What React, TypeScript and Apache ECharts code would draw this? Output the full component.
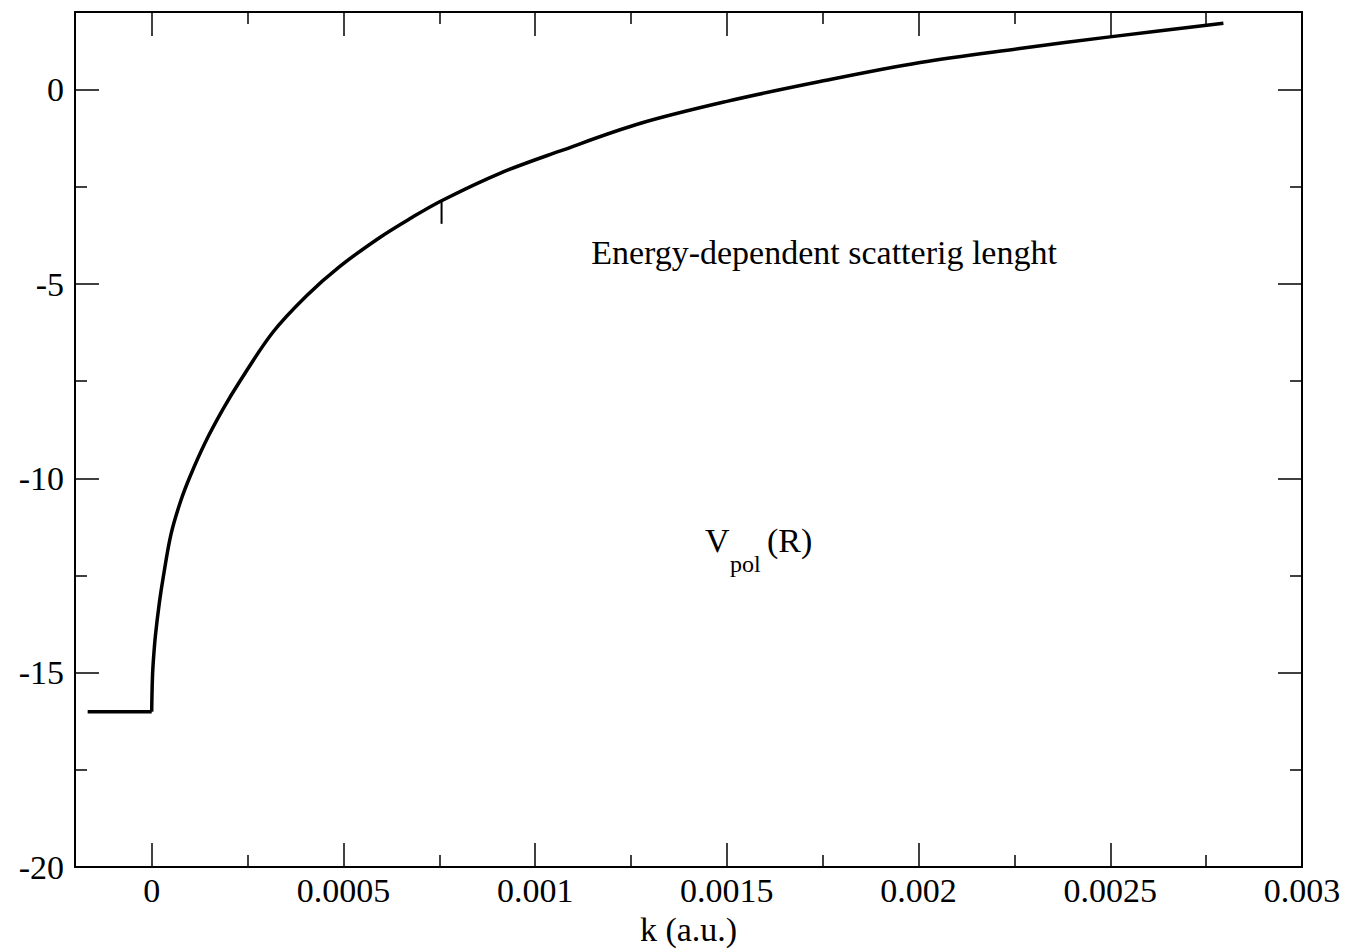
import React, { useEffect, useRef } from 'react';
import * as echarts from 'echarts';

// flat part below threshold
const flatK = [-0.000167, 0];
const flatA = [-16.0, -16.0];

// k (a.u.) and energy-dependent scattering length values
const kValues = [
  0, 0.000002, 0.000005, 0.00001, 0.00002, 0.00003, 0.00005, 0.000075,
  0.0001, 0.00014, 0.000186, 0.00023, 0.000316, 0.000404, 0.00049, 0.000595, 0.000673,
  0.000756, 0.000908, 0.001064, 0.001273, 0.0015, 0.001743,
  0.002004, 0.002264, 0.002499, 0.002795,
];
const aValues = [
  -16.0, -15.12, -14.6, -14.02, -13.2, -12.55, -11.45, -10.6,
  -9.95, -9.07, -8.22, -7.5, -6.24, -5.3, -4.55, -3.8, -3.32,
  -2.855, -2.15, -1.58, -0.87, -0.3, 0.21,
  0.7, 1.06, 1.36, 1.71,
];

// small glitch in the curve
const spikeK = [0.000756, 0.000756];
const spikeA = [-2.86, -3.45];

const xMajorTicks = [0, 0.0005, 0.001, 0.0015, 0.002, 0.0025, 0.003];
const xTickLabels = ['0', '0.0005', '0.001', '0.0015', '0.002', '0.0025', '0.003'];
const xMinorTicks = [0.00025, 0.00075, 0.00125, 0.00175, 0.00225, 0.00275];
const yMajorTicks = [-20, -15, -10, -5, 0];
const yTickLabels = ['-20', '-15', '-10', '-5', '0'];
const yMinorTicks = [-17.5, -12.5, -7.5, -2.5];

const X_MIN = -0.0002;
const X_MAX = 0.003;
const Y_MIN = -20;
const Y_MAX = 2;

const FONT = '"Liberation Serif", "Times New Roman", serif';

export default function App() {
  const ref = useRef<HTMLDivElement>(null);

  useEffect(() => {
    if (!ref.current) return;
    const chart = echarts.init(ref.current, null, { renderer: 'svg' });

    const lineStyle = { color: '#000', width: 2 };
    const tickStyle = { color: '#000', width: 1.5 };

    const xAxis = (position: 'top' | 'bottom', ticks: number[], len: number, labels: boolean, line: boolean, name?: string) => ({
      type: 'value',
      position,
      offset: 0,
      min: X_MIN,
      max: X_MAX,
      name: name || '',
      nameLocation: 'middle',
      nameGap: 38,
      nameTextStyle: { color: '#000', fontFamily: FONT, fontSize: 34 },
      splitLine: { show: false },
      axisLine: { show: line, onZero: false, lineStyle },
      axisTick: { show: true, inside: true, length: len, customValues: ticks, lineStyle: tickStyle },
      axisLabel: labels
        ? {
            show: true,
            customValues: ticks,
            margin: 6,
            color: '#000',
            fontFamily: FONT,
            fontSize: 34,
            formatter: (v: number) => {
              const i = xMajorTicks.findIndex((t) => Math.abs(t - v) < 1e-9);
              return i >= 0 ? xTickLabels[i] : '';
            },
          }
        : { show: false },
    });

    const yAxis = (position: 'left' | 'right', ticks: number[], len: number, labels: boolean, line: boolean) => ({
      type: 'value',
      position,
      offset: 0,
      min: Y_MIN,
      max: Y_MAX,
      splitLine: { show: false },
      axisLine: { show: line, onZero: false, lineStyle },
      axisTick: { show: true, inside: true, length: len, customValues: ticks, lineStyle: tickStyle },
      axisLabel: labels
        ? {
            show: true,
            customValues: ticks,
            margin: 11,
            color: '#000',
            fontFamily: FONT,
            fontSize: 34,
            formatter: (v: number) => {
              const i = yMajorTicks.findIndex((t) => Math.abs(t - v) < 1e-9);
              return i >= 0 ? yTickLabels[i] : '';
            },
          }
        : { show: false },
    });

    const curveStyle = { color: '#000', width: 3.5 };

    chart.setOption({
      animation: false,
      backgroundColor: '#fff',
      grid: { left: 75, width: 1227, top: 12, height: 860, containLabel: false },
      xAxis: [
        xAxis('bottom', xMajorTicks, 24, true, true, 'k (a.u.)'),
        xAxis('bottom', xMinorTicks, 12, false, false),
        xAxis('top', xMajorTicks, 24, false, true),
        xAxis('top', xMinorTicks, 12, false, false),
      ],
      yAxis: [
        yAxis('left', yMajorTicks, 24, true, true),
        yAxis('left', yMinorTicks, 12, false, false),
        yAxis('right', yMajorTicks, 24, false, true),
        yAxis('right', yMinorTicks, 12, false, false),
      ],
      series: [
        {
          type: 'line',
          showSymbol: false,
          symbol: 'none',
          lineStyle: curveStyle,
          data: flatK.map((k, i) => [k, flatA[i]]),
        },
        {
          type: 'line',
          showSymbol: false,
          symbol: 'none',
          smooth: 0.35,
          lineStyle: curveStyle,
          data: kValues.map((k, i) => [k, aValues[i]]),
        },
        {
          type: 'line',
          showSymbol: false,
          symbol: 'none',
          lineStyle: { color: '#000', width: 2 },
          data: spikeK.map((k, i) => [k, spikeA[i]]),
        },
      ],
      graphic: [
        {
          type: 'text',
          x: 824,
          y: 252,
          style: { text: 'Energy-dependent scatterig lenght', fill: '#000', font: `34px ${FONT}`, align: 'center', verticalAlign: 'middle' },
        },
        {
          type: 'text',
          x: 705,
          y: 540,
          style: { text: 'V', fill: '#000', font: `34px ${FONT}`, align: 'left', verticalAlign: 'middle' },
        },
        {
          type: 'text',
          x: 730,
          y: 564,
          style: { text: 'pol', fill: '#000', font: `24px ${FONT}`, align: 'left', verticalAlign: 'middle' },
        },
        {
          type: 'text',
          x: 767,
          y: 540,
          style: { text: '(R)', fill: '#000', font: `34px ${FONT}`, align: 'left', verticalAlign: 'middle' },
        },
      ],
    });

    return () => chart.dispose();
  }, []);

  return (
    <div
      ref={ref}
      style={{ position: 'fixed', left: 0, top: 0, width: 1367, height: 951, background: '#fff' }}
    />
  );
}
